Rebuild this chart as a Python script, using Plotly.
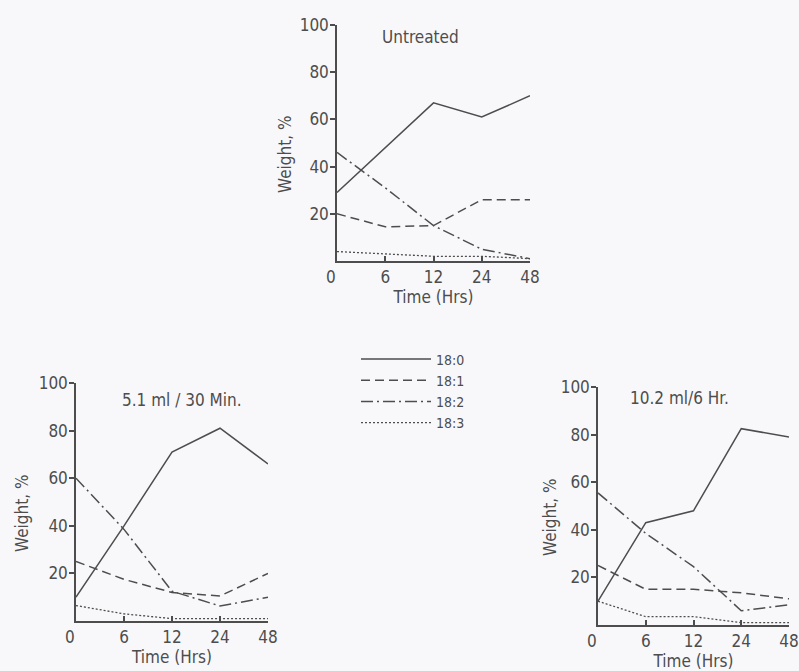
import plotly.graph_objects as go

# ---- data ----
time_labels = ["0", "6", "12", "24", "48"]
time_idx = [0, 1, 2, 3, 4]
series_names = ["18:0", "18:1", "18:2", "18:3"]

untreated = {
    "18:0": [29, 48, 67, 61, 70],
    "18:1": [20, 14.5, 15, 26, 26],
    "18:2": [46, 31, 15, 5, 1],
    "18:3": [4, 3, 2, 2, 1],
}
dose_51 = {
    "18:0": [10, 40, 71, 81, 66],
    "18:1": [25, 17.5, 12, 10.5, 20],
    "18:2": [60, 38.5, 12.5, 6.3, 10],
    "18:3": [6.5, 3, 1, 1, 1],
}
dose_102 = {
    "18:0": [10, 43, 48, 82.5, 79],
    "18:1": [25, 15, 15, 13.5, 11],
    "18:2": [55.5, 38.5, 24.5, 6, 8.5],
    "18:3": [10, 3.5, 3.5, 1, 1],
}
panel_titles = ["Untreated", "5.1 ml / 30 Min.", "10.2 ml/6 Hr."]
x_title = "Time (Hrs)"
y_title = "Weight, %"
y_ticks = [20, 40, 60, 80, 100]

W, H = 799, 671
INK = "#4d4d4d"
BG = "#f8f8fb"
FONT = "DejaVu Sans Condensed, DejaVu Sans, sans-serif"

dashes = {"18:0": "solid", "18:1": "9px,5px", "18:2": "12px,4px,2px,4px", "18:3": "2px,2px"}
widths = {"18:0": 1.5, "18:1": 1.5, "18:2": 1.5, "18:3": 1.3}

# panel pixel boxes: (x0, x1, y_zero, y_hundred, ytitle_offset)
panels = [
    (337, 530, 261, 25, 52),
    (76, 268, 621, 383, 54),
    (598, 789, 625, 387, 48),
]
datasets = [untreated, dose_51, dose_102]

fig = go.Figure()
for p, (data, box) in enumerate(zip(datasets, panels)):
    ax = "" if p == 0 else str(p + 1)
    for name in series_names:
        fig.add_trace(go.Scatter(
            x=time_idx, y=data[name], mode="lines", name=name,
            line=dict(color=INK, width=widths[name], dash=dashes[name]),
            xaxis="x" + ax, yaxis="y" + ax, showlegend=(p == 0),
            hoverinfo="skip",
        ))
    x0, x1, yz, yh, yoff = box
    xa = dict(
        domain=[x0 / W, x1 / W], range=[0, 4], anchor="y" + ax, automargin=False,
        tickmode="array", tickvals=time_idx[1:], ticktext=time_labels[1:],
        ticks="inside", ticklen=5, tickcolor=INK, tickwidth=1.5,
        showline=True, linecolor=INK, linewidth=1.5, showgrid=False, zeroline=False,
        tickfont=dict(family=FONT, size=17, color=INK), ticklabelstandoff=0,
        title=dict(text=x_title, font=dict(family=FONT, size=17, color=INK), standoff=5),
    )
    ya = dict(
        domain=[1 - yz / H, 1 - yh / H], range=[0, 100], anchor="x" + ax, automargin=False,
        tickmode="array", tickvals=y_ticks,
        ticks="outside", ticklen=5, tickcolor=INK, tickwidth=1.5,
        showline=True, linecolor=INK, linewidth=1.5, showgrid=False, zeroline=False,
        tickfont=dict(family=FONT, size=17, color=INK), ticklabelstandoff=-2,
    )
    fig.update_layout({"xaxis" + ax: xa, "yaxis" + ax: ya})
    # origin label "0"
    fig.add_annotation(x=0, y=0, xref="x" + ax, yref="y" + ax, text="0", showarrow=False,
                       xanchor="center", yanchor="top", xshift=-6, yshift=-4,
                       font=dict(family=FONT, size=17, color=INK))
    # y-axis title
    fig.add_annotation(x=(x0 - yoff) / W, y=1 - ((yz + yh) / 2 + 12) / H, xref="paper", yref="paper",
                       text=y_title, textangle=-90, showarrow=False,
                       xanchor="center", yanchor="middle",
                       font=dict(family=FONT, size=17, color=INK))

# panel titles
title_pos = [(380, 37), (120, 400), (628, 398)]
for t, (tx, ty) in zip(panel_titles, title_pos):
    fig.add_annotation(x=tx / W, y=1 - ty / H, xref="paper", yref="paper", text=t,
                       showarrow=False, xanchor="left", yanchor="middle",
                       font=dict(family=FONT, size=17, color=INK))

fig.update_layout(
    width=W, height=H, margin=dict(l=0, r=0, t=0, b=0, autoexpand=False),
    paper_bgcolor=BG, plot_bgcolor=BG,
    legend=dict(x=356 / W, y=1 - 391 / H, xanchor="left", yanchor="middle",
                bgcolor="rgba(0,0,0,0)", font=dict(family=FONT, size=14, color=INK),
                itemwidth=70, tracegroupgap=0),
)

fig.write_html("out.html", config={"displayModeBar": False},
               post_script="document.body.style.margin='0';document.body.style.background='%s';" % BG)
